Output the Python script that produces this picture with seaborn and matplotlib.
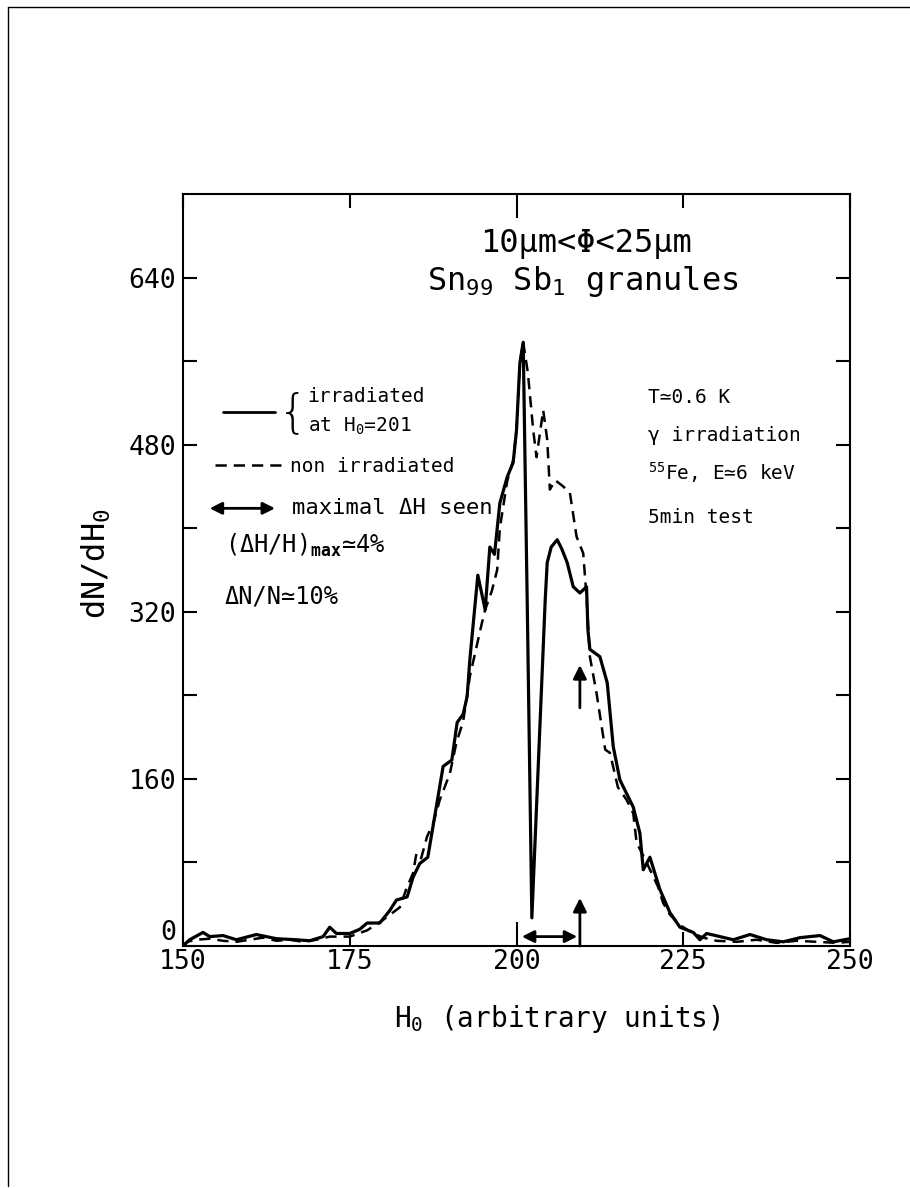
import matplotlib
matplotlib.use("Agg")
import matplotlib.pyplot as plt
from matplotlib.lines import Line2D
import pandas as pd
import seaborn as sns

# Differential field distribution of Sn99Sb1 granules (10 um < diameter < 25 um)
h_irradiated = [150, 151, 153, 154, 156, 158, 161, 164, 167, 169, 171, 172, 173, 175,
                176.5, 177.6, 179.5, 181, 182, 183.6, 184.5, 185.5, 186.7, 189, 190.3,
                191.1, 192, 192.6, 193, 194.2, 195.3, 196, 196.7, 197.5, 198.6, 199.5,
                200, 200.5, 201, 201.6, 202.3, 204.3, 204.6, 205.2, 206.1, 206.8, 207.6,
                208.5, 209.5, 210.5, 210.7, 211, 212.5, 213.6, 214.5, 215.5, 217.5, 218.5,
                219, 220, 221.5, 223, 224.5, 226.5, 227.5, 228.5, 230.5, 232.5, 235,
                237.5, 240, 242.5, 245.5, 247.5, 250]
n_irradiated = [0, 6, 13, 9, 10, 6, 11, 7, 6, 5, 9, 18, 12, 12,
                16, 22, 22, 34, 44, 47, 66, 79, 85, 172, 178,
                214, 222, 239, 274, 355, 322, 382, 375, 424, 449, 463,
                494, 558, 578, 331, 27, 331, 367, 382, 389, 380, 367,
                344, 338, 344, 303, 284, 277, 252, 191, 159, 133, 108,
                73, 85, 54, 32, 18, 13, 6, 12, 9, 6, 11,
                6, 4, 8, 10, 4, 7]

h_non_irradiated = [150, 150.6, 152, 154, 156, 158, 160, 162, 164, 166, 168, 170, 172, 175,
                    177.6, 180, 182.5, 183.5, 184.5, 185, 185.7, 186.6, 187.5, 188.5, 190,
                    191, 192, 193, 194.8, 195.3, 196.3, 197.1, 197.5, 198.6, 199.5, 200,
                    200.5, 201, 201.7, 202.5, 203, 204, 204.6, 205, 205.8, 207, 208, 209,
                    210, 210.5, 211, 212, 213.3, 214, 215.2, 216.5, 217.5, 218, 219.5,
                    221.2, 222, 223, 224.5, 226.5, 228, 230, 233, 236, 239, 242, 245,
                    248, 250]
n_non_irradiated = [0, 4, 6, 7, 5, 4, 6, 8, 5, 6, 4, 6, 9, 9,
                    15, 25, 37, 55, 70, 89, 84, 105, 117, 140, 165,
                    195, 215, 258, 309, 322, 340, 360, 400, 445, 465, 494,
                    558, 578, 549, 494, 468, 513, 485, 437, 446, 440, 434, 392,
                    376, 334, 277, 242, 188, 185, 152, 140, 127, 99, 80,
                    57, 41, 30, 20, 12, 8, 5, 4, 6, 3, 5, 4,
                    3, 4]

x_ticks = [150, 175, 200, 225, 250]
y_ticks = [0, 160, 320, 480, 640]
y_minor_ticks = [80, 240, 400, 560]

# Maximal field shift seen (H0 = 201 -> ~209.5)
delta_h_start = 200.8
delta_h_end = 209.5

sns.set_theme(style="ticks")
plt.rcParams["font.family"] = ["DejaVu Sans Mono", "DejaVu Sans"]
plt.rcParams.update({
    "mathtext.fontset": "custom",
    "mathtext.rm": "DejaVu Sans Mono",
    "mathtext.it": "DejaVu Sans Mono",
    "mathtext.bf": "DejaVu Sans Mono:bold",
    "axes.linewidth": 1.5,
    "axes.edgecolor": "black",
    "axes.labelcolor": "black",
    "text.color": "black",
    "xtick.color": "black",
    "ytick.color": "black",
    "xtick.labelcolor": "black",
    "ytick.labelcolor": "black",
})

fig = plt.figure(figsize=(9.1, 11.88), dpi=100)
fig.patch.set_facecolor("white")
ax = fig.add_axes([0.2011, 0.2037, 0.7330, 0.6330])
ax.set_facecolor("white")

irr = pd.DataFrame({"H0": h_irradiated, "dN": n_irradiated})
non = pd.DataFrame({"H0": h_non_irradiated, "dN": n_non_irradiated})

sns.lineplot(data=irr, x="H0", y="dN", estimator=None, sort=False, ax=ax,
             color="black", linewidth=2.3)
sns.lineplot(data=non, x="H0", y="dN", estimator=None, sort=False, ax=ax,
             color="black", linewidth=1.8)
ax.lines[-1].set_linestyle((0, (4.5, 2.8)))

ax.set_xlim(150, 250)
ax.set_ylim(0, 720)

ax.set_xticks(x_ticks)
ax.set_xticklabels([str(v) for v in x_ticks])
ax.set_yticks(y_ticks)
ax.set_yticklabels([str(v) for v in y_ticks])
ax.set_yticks(y_minor_ticks, minor=True)
ax.tick_params(axis="both", which="both", direction="in", top=True, right=True,
               width=1.5, length=10, labelsize=19, colors="black")
ax.tick_params(axis="x", which="major", pad=2)
ax.tick_params(axis="y", which="major", pad=5)
for spine in ax.spines.values():
    spine.set_visible(True)
    spine.set_linewidth(1.5)
    spine.set_color("black")

# longer marks at H0 = 200
for t in ax.xaxis.get_major_ticks():
    if t.get_loc() == 200:
        t.tick1line.set_markersize(17)
        t.tick2line.set_markersize(17)

ax.yaxis.get_major_ticks()[0].label1.set_va("bottom")

ax.set_xlabel("H$_0$ (arbitrary units)", fontsize=20, color="black")
ax.xaxis.set_label_coords(0.561, -0.108)
ax.xaxis.label.set_va("baseline")
ax.set_ylabel("dN/dH$_0$", fontsize=23, color="black")
ax.yaxis.set_label_coords(-0.13, 0.509)
ax.yaxis.label.set_va("center")

# sample heading
ax.text(0.604, 0.923, "10\u03bcm<\u03a6<25\u03bcm", transform=ax.transAxes,
        ha="center", va="baseline", fontsize=23)
ax.text(0.600, 0.872, "Sn$_{99}$ Sb$_1$ granules", transform=ax.transAxes,
        ha="center", va="baseline", fontsize=23)

# key
ax.add_line(Line2D([0.060, 0.138], [0.710, 0.710], transform=ax.transAxes,
                   color="black", lw=2.0))
ax.text(0.165, 0.708, "{", transform=ax.transAxes, ha="center", va="center",
        fontsize=34, family="DejaVu Sans", fontweight="light")
ax.text(0.187, 0.723, "irradiated", transform=ax.transAxes, va="baseline", fontsize=14)
ax.text(0.187, 0.684, "at H$_0$=201", transform=ax.transAxes, va="baseline", fontsize=14)
ax.add_line(Line2D([0.048, 0.150], [0.640, 0.640], transform=ax.transAxes,
                   color="black", lw=1.8, linestyle=(0, (4.5, 2.8))))
ax.text(0.160, 0.630, "non irradiated", transform=ax.transAxes, va="baseline", fontsize=14)
ax.annotate("", xy=(0.040, 0.582), xytext=(0.138, 0.582), xycoords="axes fraction",
            arrowprops=dict(arrowstyle="<|-|>", color="black", lw=2.0,
                            mutation_scale=18, shrinkA=0, shrinkB=0))
ax.text(0.163, 0.574, "maximal \u0394H seen", transform=ax.transAxes, va="baseline",
        fontsize=16)
ax.text(0.063, 0.523, "(\u0394H/H)$_{\\mathbf{max}}$\u22434%", transform=ax.transAxes,
        va="baseline", fontsize=17)
ax.text(0.063, 0.456, "\u0394N/N\u224310%", transform=ax.transAxes, va="baseline",
        fontsize=17)

# experimental conditions
ax.text(0.697, 0.722, "T\u22430.6 K", transform=ax.transAxes, va="baseline", fontsize=14)
ax.text(0.697, 0.672, "\u03b3 irradiation", transform=ax.transAxes, va="baseline",
        fontsize=14)
ax.text(0.697, 0.620, "$^{55}$Fe, E\u22436 keV", transform=ax.transAxes, va="baseline",
        fontsize=14)
ax.text(0.697, 0.5625, "5min test", transform=ax.transAxes, va="baseline", fontsize=14)

# field-shift markers
arrow_kw = dict(arrowstyle="-|>", color="black", lw=2.0, mutation_scale=20,
                shrinkA=0, shrinkB=0)
ax.annotate("", xy=(delta_h_start, 9), xytext=(delta_h_end - 0.4, 9),
            arrowprops=dict(arrowstyle="<|-|>", color="black", lw=2.0,
                            mutation_scale=18, shrinkA=0, shrinkB=0))
ax.annotate("", xy=(delta_h_end, 46), xytext=(delta_h_end, 0), arrowprops=arrow_kw)
ax.annotate("", xy=(delta_h_end, 269), xytext=(delta_h_end, 228), arrowprops=arrow_kw)

# page frame
fig.add_artist(Line2D([0.0088, 1.0], [0.9941, 0.9941], transform=fig.transFigure,
                      color="black", lw=1.0))
fig.add_artist(Line2D([0.0088, 0.0088], [0.002, 0.9941], transform=fig.transFigure,
                      color="black", lw=1.0))

fig.savefig("out.png", dpi=100, facecolor="white")
